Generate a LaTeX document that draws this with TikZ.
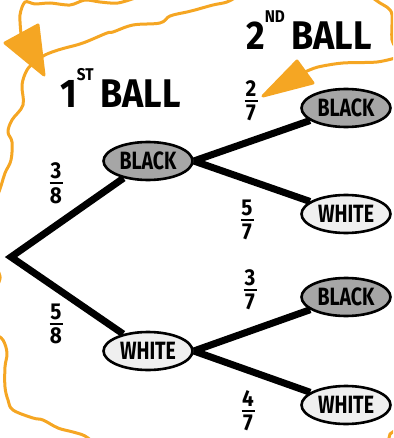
\documentclass[tikz,border=0pt]{standalone}
\usepackage{fontspec}
\usetikzlibrary{shapes.geometric}
\newfontfamily\headfont{Fira Sans}[FakeStretch=0.9]
\newfontfamily\labfont{Fira Sans}[FakeStretch=0.78]
\definecolor{Orange}{HTML}{F5A623}
\definecolor{Dark}{HTML}{A6A6A6}
\definecolor{Light}{HTML}{EFEFEF}
\newcommand{\frc}[2]{\shortstack{#1\\\rule{13pt}{2.4pt}\\#2}}

\begin{document}
\begin{tikzpicture}[x=1pt,y=-1pt,
    ball/.style={ellipse,draw,line width=2.6pt,minimum width=89pt,minimum height=38pt,inner sep=0pt,
      font=\labfont\bfseries\fontsize{25}{25}\selectfont},
    blk/.style={ball,fill=Dark},
    wht/.style={ball,fill=Light},
    branch/.style={line width=7pt},
    prob/.style={font=\headfont\bfseries\fontsize{23}{23}\selectfont,inner sep=0pt},
    head/.style={font=\headfont\bfseries\fontsize{40}{40}\selectfont,anchor=base west,inner sep=0pt},
    cloud/.style={Orange,line width=3pt,line cap=round,line join=round}]
  \useasboundingbox(0,0)rectangle(393,438);
  \clip(0,0)rectangle(393,438);
  % orange cloud round the tree
  \draw[cloud]plot[smooth]coordinates{(138,-3)(118,3)(100,2)(85,0)(70,5)(50,3)(35,4)(25,2)(20,15)(21,34)};
  \filldraw[cloud](5,43)--(38,25)--(44,75)--cycle;
  \draw[cloud]plot[smooth,tension=.6]coordinates{(238,-4)(227,2)(213,5)(195,10)(187,12)(170,16)(160,23)
    (133,25)(113,32)(107,33)(83,43)(65,48)(58,50)(45,55)(35,62)(27,70)(22,85)(23,105)(12,120)(8,132)
    (12,142)(11,160)(5,173)(1,186)(-8,215)(-10,255)(-1,273)(-1,282)(-10,300)(-6,330)(3,340)(7,353)(5,367)
    (5,387)(8,400)(13,410)(33,418)(43,420)(58,428)(73,432)(85,436)(95,444)};
  \draw[cloud]plot[smooth]coordinates{(370,-4)(380,3)(388,8)(392,15)(392,40)(398,50)};
  \draw[cloud]plot[smooth]coordinates{(399,57)(377,62)(343,63)(318,67)(305,72)};
  \filldraw[cloud](297,61)--(313,83)--(263,96)--cycle;
  \draw[cloud](388,442)--(390,434)--(397,429);
  % tree
  \coordinate(root)at(11,257);
  \node[blk](b1)at(148,161){BLACK};
  \node[wht](w1)at(148,351){WHITE};
  \node[blk](b1b)at(346,108){BLACK};
  \node[wht](b1w)at(346,214){WHITE};
  \node[blk](w1b)at(346,297){BLACK};
  \node[wht](w1w)at(346,405){WHITE};
  \draw[branch,line join=miter](b1)--(root)--(w1);
  \draw[branch](b1.east)--(b1b);
  \draw[branch](b1.east)--(b1w);
  \draw[branch](w1.east)--(w1b);
  \draw[branch](w1.east)--(w1w);
  \node[prob](p38)at(56,183){\frc{3}{8}};
  \node[prob](p58)at(56,324){\frc{5}{8}};
  \node[prob](p27)at(251,101){\frc{2}{7}};
  \node[prob](p57)at(247,220){\frc{5}{7}};
  \node[prob](p37)at(250,290){\frc{3}{7}};
  \node[prob](p47)at(248,411){\frc{4}{7}};
  \node[head](h1)at(60,108){1\raisebox{27pt}{\fontsize{17}{17}\selectfont ST}\,BALL};
  \node[head](h2)at(246,50){2\raisebox{27pt}{\fontsize{17}{17}\selectfont ND}\,BALL};
\end{tikzpicture}
\end{document}
